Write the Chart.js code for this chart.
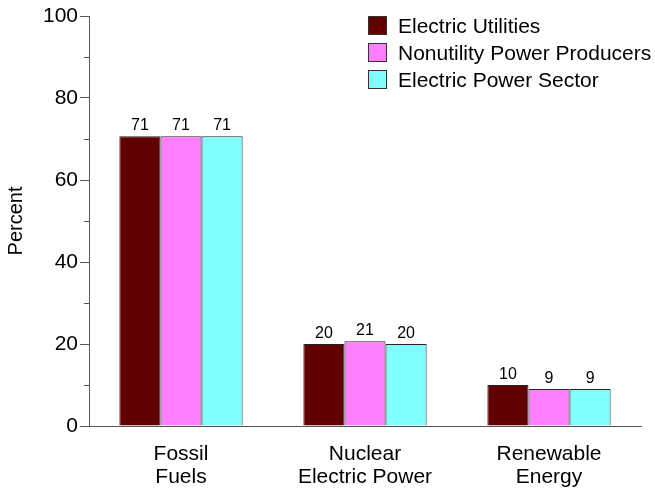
<!DOCTYPE html>
<html>
<head>
<meta charset="utf-8">
<script src="https://cdn.jsdelivr.net/npm/chart.js@4/dist/chart.umd.min.js"></script>
<style>
  body { margin: 0; background: #fff; }
  #wrap { position: relative; width: 655px; height: 489px; }
  #legend { position: absolute; left: 368px; top: 12px; font-family: "Liberation Sans", Arial, sans-serif; font-size: 21px; color: #000; }
  .row { display: flex; align-items: center; height: 27px; }
  .box { width: 19px; height: 19px; box-sizing: border-box; border: 1px solid #333; margin-right: 11px; }
</style>
</head>
<body>
<div id="wrap">
  <canvas id="chart" width="655" height="489"></canvas>
  <div id="legend"></div>
</div>
<script>
// Datos
const categories = [['Fossil', 'Fuels'], ['Nuclear', 'Electric Power'], ['Renewable', 'Energy']];
const seriesNames = ['Electric Utilities', 'Nonutility Power Producers', 'Electric Power Sector'];
const utilities = [70.7, 20.0, 10.0];
const nonutility = [70.7, 20.7, 9.0];
const powerSector = [70.7, 20.0, 9.0];
const yTicks = [0, 20, 40, 60, 80, 100];
const yMinorTicks = [10, 30, 50, 70, 90];

const colors = ['#600000', '#ff80ff', '#80ffff'];
const axisColor = '#555';
const font = '"Liberation Sans", Arial, sans-serif';

// Leyenda en HTML
document.getElementById('legend').innerHTML = seriesNames.map((name, i) =>
  `<div class="row"><div class="box" style="background:${colors[i]}"></div>${name}</div>`
).join('');

// Etiquetas de valor y marcas menores
const extras = {
  id: 'extras',
  afterDatasetsDraw(chart) {
    const ctx = chart.ctx;
    ctx.save();
    ctx.font = '16px ' + font;
    ctx.fillStyle = '#000';
    ctx.textAlign = 'center';
    ctx.textBaseline = 'alphabetic';
    chart.data.datasets.forEach((ds, i) => {
      chart.getDatasetMeta(i).data.forEach((bar, j) => {
        ctx.fillText(String(Math.round(ds.data[j])), bar.x, bar.y - 6);
      });
    });
    const y = chart.scales.y;
    const left = chart.chartArea.left;
    ctx.strokeStyle = axisColor;
    ctx.lineWidth = 1;
    yMinorTicks.forEach(v => {
      const py = Math.round(y.getPixelForValue(v)) + 0.5;
      ctx.beginPath();
      ctx.moveTo(left - 5, py);
      ctx.lineTo(left, py);
      ctx.stroke();
    });
    ctx.restore();
  }
};

new Chart(document.getElementById('chart'), {
  type: 'bar',
  data: {
    labels: categories,
    datasets: [
      { label: seriesNames[0], data: utilities, backgroundColor: colors[0] },
      { label: seriesNames[1], data: nonutility, backgroundColor: colors[1] },
      { label: seriesNames[2], data: powerSector, backgroundColor: colors[2] }
    ].map(d => Object.assign(d, { borderColor: '#222', borderWidth: 1, categoryPercentage: 0.67, barPercentage: 1.0 }))
  },
  options: {
    responsive: false,
    animation: false,
    layout: { padding: { top: 16, right: 14, left: 0, bottom: 0 } },
    plugins: { legend: { display: false }, tooltip: { enabled: false } },
    scales: {
      x: {
        grid: { display: false, drawTicks: false },
        border: { color: axisColor, width: 1 },
        ticks: { color: '#000', font: { family: font, size: 21, lineHeight: 1.1 }, padding: 17, maxRotation: 0 },
        afterFit: s => { s.height = 63; }
      },
      y: {
        min: 0,
        max: 100,
        afterBuildTicks: s => { s.ticks = yTicks.map(v => ({ value: v })); },
        grid: { drawOnChartArea: false, tickLength: 9, color: axisColor },
        border: { color: axisColor, width: 1 },
        ticks: { color: '#000', font: { family: font, size: 21 }, padding: 2 },
        title: { display: true, text: 'Percent', color: '#000', font: { family: font, size: 20 }, padding: { top: 4, bottom: 0 } },
        afterFit: s => { s.width = 89; }
      }
    }
  },
  plugins: [extras]
});
</script>
</body>
</html>
